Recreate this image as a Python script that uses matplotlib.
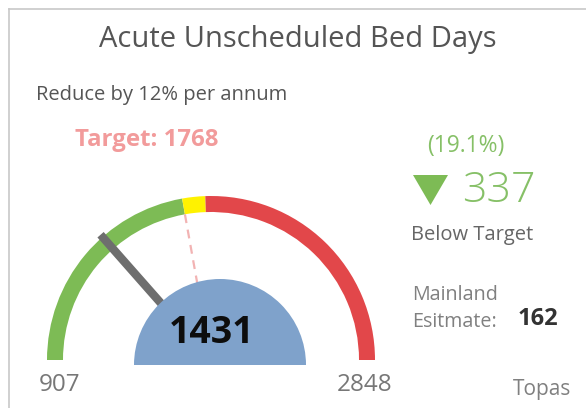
import numpy as np
import matplotlib
matplotlib.use("Agg")
import matplotlib.pyplot as plt
from matplotlib.patches import Wedge, Polygon

# gauge values
gauge_min = 907
gauge_max = 2848
actual = 1431
target = 1768
band_edges = [907, 1768, 1856, 2848]
band_colors = ["#7dbb55", "#fff200", "#e2474a"]

# kpi card values
variance = 337
variance_pct = "(19.1%)"
mainland_estimate = 162

W, H = 586, 408
fig = plt.figure(figsize=(W / 100, H / 100), dpi=100)
ax = fig.add_axes([0, 0, 1, 1])
ax.set_xlim(0, W)
ax.set_ylim(0, H)
ax.axis("off")

FONT = "Open Sans"


def to_angle(v):
    # 180 deg at gauge_min, 0 deg at gauge_max
    return 180 - 180 * (v - gauge_min) / (gauge_max - gauge_min)


# frame lines (cropped card)
ax.plot([8.5, 8.5], [0, H - 8.5], color="#c8c8c8", lw=1.2)
ax.plot([8.5, W], [H - 8.5, H - 8.5], color="#c8c8c8", lw=1.2)

cx, cy, r_out, width = 211, 48, 164, 16
for lo, hi, col in zip(band_edges[:-1], band_edges[1:], band_colors):
    ax.add_patch(Wedge((cx, cy), r_out, to_angle(hi), to_angle(lo),
                       width=width, facecolor=col, edgecolor="none"))

# target dashed line
ta = np.radians(to_angle(target))
ax.plot([cx + 148 * np.cos(ta), cx + 70 * np.cos(ta)],
        [cy + 148 * np.sin(ta), cy + 70 * np.sin(ta)],
        color="#f2b3b3", lw=1.6, ls=(0, (4, 3)), zorder=2)

# needle
na = np.radians(to_angle(actual))
ax.plot([cx + 167 * np.cos(na), cx + 60 * np.cos(na)],
        [cy + 167 * np.sin(na), cy + 60 * np.sin(na)],
        color="#6e6e6e", lw=6, solid_capstyle="butt", zorder=3)

# value disc
ax.add_patch(Wedge((220, 43), 86, 0, 180, facecolor="#7fa2cb",
                   edgecolor="none", zorder=4))
ax.text(211.5, 75, str(actual), fontsize=27, fontweight="bold",
        color="#0d0d0d", family=FONT, ha="center", va="center", zorder=5)

ax.text(60, 23, str(gauge_min), fontsize=17.5, color="#777777", family=FONT,
        ha="center", va="center")
ax.text(365, 23, str(gauge_max), fontsize=17.5, color="#777777", family=FONT,
        ha="center", va="center")

# headings
ax.text(298, 368, "Acute Unscheduled Bed Days", fontsize=21,
        color="#555555", family=FONT, ha="center", va="center")
ax.text(36, 313, "Reduce by 12% per annum", fontsize=14.5,
        color="#555555", family=FONT, ha="left", va="center")
ax.text(75, 268, f"Target: {target}", fontsize=17.3, fontweight="bold",
        color="#f29b9b", family=FONT, ha="left", va="center")

# kpi
ax.text(466, 262, variance_pct, fontsize=16.5, color="#86c067",
        family=FONT, ha="center", va="center")
ax.add_patch(Polygon([[413, 233], [448, 233], [430.5, 203]], closed=True,
                     facecolor="#7dbb55", edgecolor="none"))
ax.text(499, 217, str(variance), fontsize=31, fontweight="light",
        color="#86c067", family=FONT, ha="center", va="center")
ax.text(411, 173, "Below Target", fontsize=14.5, color="#666666",
        family=FONT, ha="left", va="center")
ax.text(412, 113, "Mainland", fontsize=14.2, color="#808080",
        family=FONT, ha="left", va="center")
ax.text(412, 86, "Esitmate:", fontsize=14.2, color="#808080",
        family=FONT, ha="left", va="center")
ax.text(538, 89, str(mainland_estimate), fontsize=17, fontweight="bold",
        color="#333333", family=FONT, ha="center", va="center")
ax.text(542, 18, "Topas", fontsize=15, color="#808080",
        family=FONT, ha="center", va="center")

fig.savefig("out.png", dpi=100)
